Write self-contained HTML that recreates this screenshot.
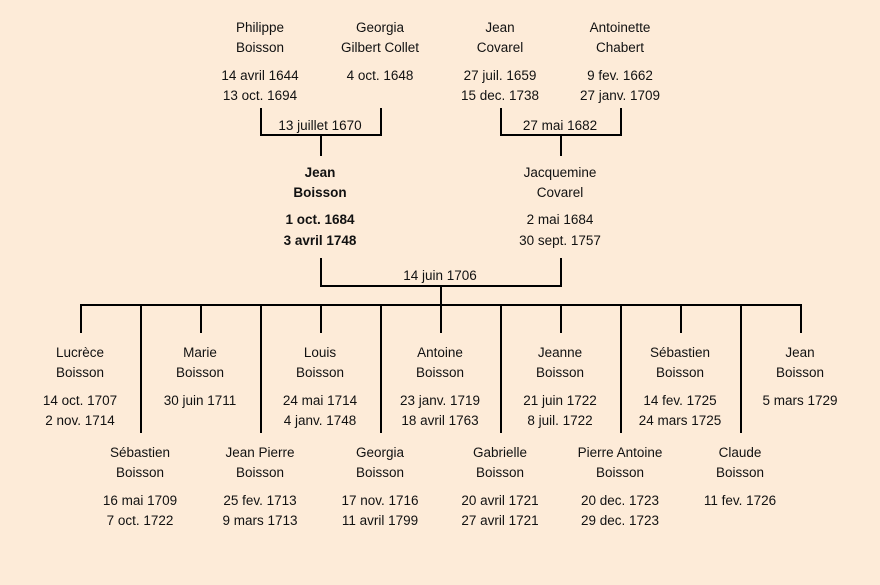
<!DOCTYPE html>
<html><head><meta charset="utf-8"><style>
html,body{margin:0;padding:0;background:#fdebd8;}
svg{display:block;}
text{font-family:"Liberation Sans",sans-serif;font-size:13.5px;fill:#111;text-anchor:middle;}
.b{font-weight:bold;}
</style></head><body>
<svg width="880" height="585" xmlns="http://www.w3.org/2000/svg">
<rect width="880" height="585" fill="#fdebd8"/>
<g stroke="#000" stroke-width="2" fill="none">
<polyline points="261,108 261,135 381,135 381,108"/>
<line x1="321" y1="135" x2="321" y2="156"/>
<polyline points="501,108 501,135 621,135 621,108"/>
<line x1="561" y1="135" x2="561" y2="156"/>
<polyline points="321,258 321,286 561,286 561,258"/>
<line x1="441" y1="286" x2="441" y2="305"/>
<line x1="80" y1="305" x2="802" y2="305"/>
<line x1="81" y1="305" x2="81" y2="333"/>
<line x1="201" y1="305" x2="201" y2="333"/>
<line x1="321" y1="305" x2="321" y2="333"/>
<line x1="441" y1="305" x2="441" y2="333"/>
<line x1="561" y1="305" x2="561" y2="333"/>
<line x1="681" y1="305" x2="681" y2="333"/>
<line x1="801" y1="305" x2="801" y2="333"/>
<line x1="141" y1="305" x2="141" y2="433"/>
<line x1="261" y1="305" x2="261" y2="433"/>
<line x1="381" y1="305" x2="381" y2="433"/>
<line x1="501" y1="305" x2="501" y2="433"/>
<line x1="621" y1="305" x2="621" y2="433"/>
<line x1="741" y1="305" x2="741" y2="433"/>
</g>
<g>
<text x="260" y="32">Philippe</text><text x="260" y="52">Boisson</text><text x="260" y="80">14 avril 1644</text><text x="260" y="100">13 oct. 1694</text>
<text x="380" y="32">Georgia</text><text x="380" y="52">Gilbert Collet</text><text x="380" y="80">4 oct. 1648</text>
<text x="500" y="32">Jean</text><text x="500" y="52">Covarel</text><text x="500" y="80">27 juil. 1659</text><text x="500" y="100">15 dec. 1738</text>
<text x="620" y="32">Antoinette</text><text x="620" y="52">Chabert</text><text x="620" y="80">9 fev. 1662</text><text x="620" y="100">27 janv. 1709</text>
<text x="320" y="130">13 juillet 1670</text>
<text x="560" y="130">27 mai 1682</text>
<text class="b" x="320" y="177">Jean</text><text class="b" x="320" y="197">Boisson</text><text class="b" x="320" y="224">1 oct. 1684</text><text class="b" x="320" y="245">3 avril 1748</text>
<text x="560" y="177">Jacquemine</text><text x="560" y="197">Covarel</text><text x="560" y="224">2 mai 1684</text><text x="560" y="245">30 sept. 1757</text>
<text x="440" y="280">14 juin 1706</text>

<text x="80" y="357">Lucrèce</text><text x="80" y="377">Boisson</text><text x="80" y="405">14 oct. 1707</text><text x="80" y="425">2 nov. 1714</text>
<text x="200" y="357">Marie</text><text x="200" y="377">Boisson</text><text x="200" y="405">30 juin 1711</text>
<text x="320" y="357">Louis</text><text x="320" y="377">Boisson</text><text x="320" y="405">24 mai 1714</text><text x="320" y="425">4 janv. 1748</text>
<text x="440" y="357">Antoine</text><text x="440" y="377">Boisson</text><text x="440" y="405">23 janv. 1719</text><text x="440" y="425">18 avril 1763</text>
<text x="560" y="357">Jeanne</text><text x="560" y="377">Boisson</text><text x="560" y="405">21 juin 1722</text><text x="560" y="425">8 juil. 1722</text>
<text x="680" y="357">Sébastien</text><text x="680" y="377">Boisson</text><text x="680" y="405">14 fev. 1725</text><text x="680" y="425">24 mars 1725</text>
<text x="800" y="357">Jean</text><text x="800" y="377">Boisson</text><text x="800" y="405">5 mars 1729</text>

<text x="140" y="457">Sébastien</text><text x="140" y="477">Boisson</text><text x="140" y="505">16 mai 1709</text><text x="140" y="525">7 oct. 1722</text>
<text x="260" y="457">Jean Pierre</text><text x="260" y="477">Boisson</text><text x="260" y="505">25 fev. 1713</text><text x="260" y="525">9 mars 1713</text>
<text x="380" y="457">Georgia</text><text x="380" y="477">Boisson</text><text x="380" y="505">17 nov. 1716</text><text x="380" y="525">11 avril 1799</text>
<text x="500" y="457">Gabrielle</text><text x="500" y="477">Boisson</text><text x="500" y="505">20 avril 1721</text><text x="500" y="525">27 avril 1721</text>
<text x="620" y="457">Pierre Antoine</text><text x="620" y="477">Boisson</text><text x="620" y="505">20 dec. 1723</text><text x="620" y="525">29 dec. 1723</text>
<text x="740" y="457">Claude</text><text x="740" y="477">Boisson</text><text x="740" y="505">11 fev. 1726</text>
</g>
</svg>
</body></html>
